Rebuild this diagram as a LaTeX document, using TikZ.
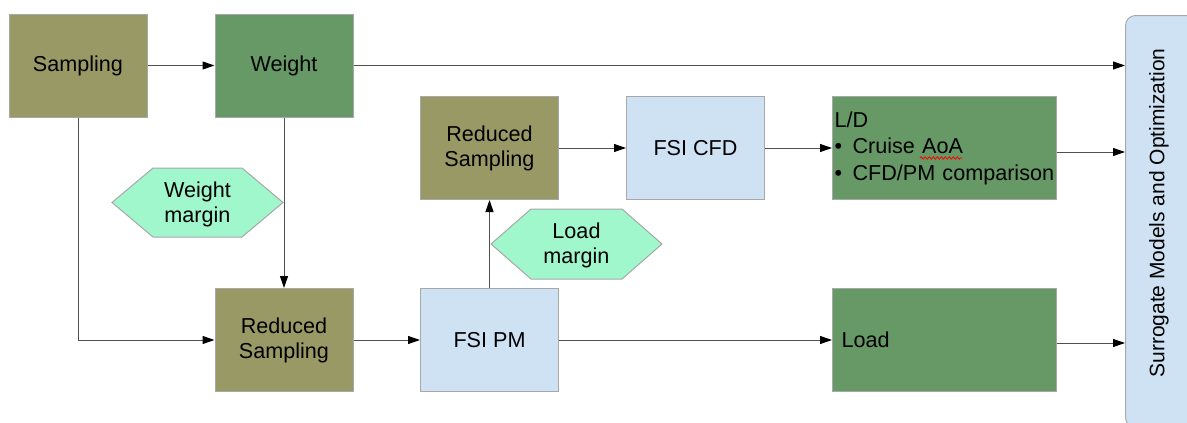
\documentclass[tikz,border=0pt]{standalone}
\usepackage{fontspec}
\setmainfont{Liberation Sans}
\usetikzlibrary{arrows.meta,calc,decorations.pathmorphing}
\definecolor{boxolive}{HTML}{999966}
\definecolor{boxgreen}{HTML}{669966}
\definecolor{boxblue}{HTML}{CFE2F3}
\definecolor{hexmint}{HTML}{A0F7CC}
\definecolor{edgegray}{HTML}{A8A8A8}
\definecolor{linegray}{HTML}{505050}
\begin{document}
\begin{tikzpicture}[x=1pt,y=-1pt,
  font=\fontsize{21.6}{25}\selectfont,
  box/.style={draw=edgegray, line width=1pt, minimum width=138pt,
    minimum height=103pt, align=center, inner sep=0pt},
  widebox/.style={box, minimum width=224pt},
  hexa/.style={draw=edgegray, line width=1pt, fill=hexmint},
  flow/.style={draw=linegray, line width=1pt,
    -{Triangle[length=12pt,width=8pt,color=black]}},
]
\useasboundingbox (0,0) rectangle (1187,423);
\clip (0,0) rectangle (1187,423);

% right-hand collector box
\node[draw=edgegray, fill=boxblue, line width=1pt, rounded corners=10pt,
  minimum width=75pt, minimum height=412pt, anchor=north west] (sur) at (1125,15) {};
\node[rotate=90, font=\fontsize{21}{25}\selectfont] (surtxt) at (1159,213)
  {Surrogate Models and Optimization};

% process boxes
\node[box, fill=boxolive] (samp) at (78,65.5) {Sampling};
\node[box, fill=boxgreen] (wt) at (284,65.5) {Weight};
\node[box, fill=boxolive] (rs1) at (489.5,148) {Reduced\\Sampling};
\node[box, fill=boxblue] (cfd) at (695.5,148) {FSI CFD};
\node[widebox, fill=boxgreen, align=left, text width=220pt, inner xsep=2pt,
  font=\fontsize{21.6}{26.5}\selectfont] (ld) at (944.5,148)
  {L/D\\\makebox[18pt][l]{•}Cruise AoA\\\makebox[18pt][l]{•}CFD/PM comparison};
\node[box, fill=boxolive] (rs2) at (284,340) {Reduced\\Sampling};
\node[box, fill=boxblue] (pm) at (489.5,340) {FSI PM};
\node[widebox, fill=boxgreen, align=left, text width=206pt, inner xsep=9pt] (load) at (944.5,340) {Load};

% spell-check squiggle under AoA
\draw[red, line width=0.8pt, decorate,
  decoration={snake, amplitude=1.2pt, segment length=4pt}] (920,158) -- (962,158);

% margin hexagons
\coordinate (wmc) at (197.5,202.5);
\draw[hexa] (wmc) ++(-85.5,0) -- ++(41,-34.5) -- ++(89,0) -- ++(41,34.5)
  -- ++(-41,34.5) -- ++(-89,0) -- cycle;
\node[align=center] (wm) at ([yshift=-1.5pt]wmc) {Weight\\margin};
\coordinate (lmc) at (576.5,244);
\draw[hexa] (lmc) ++(-85.5,0) -- ++(40,-35) -- ++(91,0) -- ++(40,35)
  -- ++(-40,35) -- ++(-91,0) -- cycle;
\node[align=center] (lm) at ([yshift=-1.5pt]lmc) {Load\\margin};

% exit points of the result boxes
\coordinate (ldout) at ([yshift=-4pt]ld.east);
\coordinate (loadout) at ([yshift=-3pt]load.east);

% connectors
\draw[flow] (samp.east) -- (wt.west);
\draw[flow] (wt.east) -- (sur.west |- wt.east);
\draw[flow] (samp.south) |- (rs2.west);
\draw[flow] (wt.south) -- (rs2.north);
\draw[flow] (rs2.east) -- (pm.west);
\draw[flow] (pm.north) -- (rs1.south);
\draw[flow] (rs1.east) -- (cfd.west);
\draw[flow] (cfd.east) -- (ld.west);
\draw[flow] (ldout) -- (sur.west |- ldout);
\draw[flow] (pm.east) -- (load.west);
\draw[flow] (loadout) -- (sur.west |- loadout);
\end{tikzpicture}
\end{document}
